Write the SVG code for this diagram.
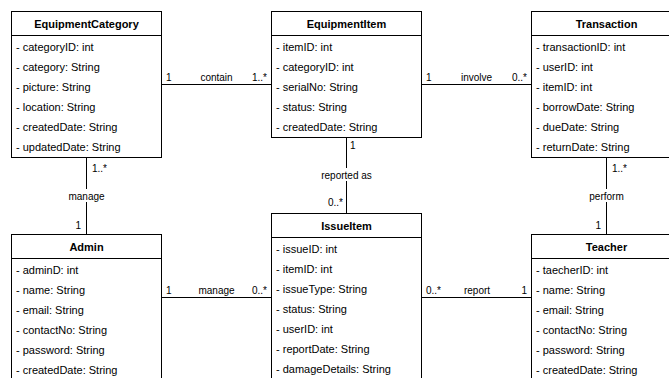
<svg xmlns="http://www.w3.org/2000/svg" width="669" height="378" viewBox="0 0 669 378">
  <style>
    .box { fill: #ffffff; stroke: #000000; stroke-width: 1; }
    .sep { stroke: #000000; stroke-width: 1; }
    .title { font-family: "Liberation Sans", Arial, sans-serif; font-size: 11px; font-weight: bold; fill: #000000; text-anchor: middle; }
    .attr { font-family: "Liberation Sans", Arial, sans-serif; font-size: 11px; fill: #000000; }
    .edge { stroke: #000000; stroke-width: 1; fill: none; }
    .lbl { font-family: "Liberation Sans", Arial, sans-serif; font-size: 10px; fill: #000000; }
    .mid { text-anchor: middle; }
    .end { text-anchor: end; }
    .bg { fill: #ffffff; }
  </style>
  <rect width="669" height="378" fill="#ffffff"/>

  <!-- associations -->
  <g id="connectors">
    <!-- EquipmentCategory - EquipmentItem -->
    <line class="edge" x1="161.5" y1="84.5" x2="271.5" y2="84.5"/>
    <text class="lbl" x="166" y="80.5">1</text>
    <text class="lbl mid" x="216.5" y="80.5">contain</text>
    <text class="lbl end" x="267" y="80.5">1..*</text>

    <!-- EquipmentItem - Transaction -->
    <line class="edge" x1="421.5" y1="84.5" x2="531.5" y2="84.5"/>
    <text class="lbl" x="426" y="80.5">1</text>
    <text class="lbl mid" x="476.5" y="80.5">involve</text>
    <text class="lbl end" x="527" y="80.5">0..*</text>

    <!-- EquipmentCategory - Admin -->
    <line class="edge" x1="86.5" y1="157.5" x2="86.5" y2="234.5"/>
    <text class="lbl" x="92" y="171.5">1..*</text>
    <rect class="bg" x="68" y="189" width="37" height="13"/>
    <text class="lbl mid" x="86.5" y="199.5">manage</text>
    <text class="lbl end" x="81" y="228.5">1</text>

    <!-- EquipmentItem - IssueItem -->
    <line class="edge" x1="346.5" y1="137.5" x2="346.5" y2="213.5"/>
    <text class="lbl" x="350" y="148.5">1</text>
    <rect class="bg" x="320" y="168" width="53" height="13"/>
    <text class="lbl mid" x="346.5" y="178.5">reported as</text>
    <text class="lbl end" x="343" y="205.5">0..*</text>

    <!-- Transaction - Teacher -->
    <line class="edge" x1="606.5" y1="157.5" x2="606.5" y2="234.5"/>
    <text class="lbl" x="612" y="171.5">1..*</text>
    <rect class="bg" x="588" y="189" width="37" height="13"/>
    <text class="lbl mid" x="606.5" y="199.5">perform</text>
    <text class="lbl end" x="601" y="228.5">1</text>

    <!-- Admin - IssueItem -->
    <line class="edge" x1="161.5" y1="297.5" x2="271.5" y2="297.5"/>
    <text class="lbl" x="166" y="293.5">1</text>
    <text class="lbl mid" x="216.5" y="293.5">manage</text>
    <text class="lbl end" x="267" y="293.5">0..*</text>

    <!-- IssueItem - Teacher -->
    <line class="edge" x1="421.5" y1="297.5" x2="531.5" y2="297.5"/>
    <text class="lbl" x="426" y="293.5">0..*</text>
    <text class="lbl mid" x="477" y="293.5">report</text>
    <text class="lbl end" x="527" y="293.5">1</text>
  </g>

  <g id="EquipmentCategory">
    <rect class="box" x="11.5" y="11.5" width="150" height="146"/>
    <line class="sep" x1="11.5" y1="35.5" x2="161.5" y2="35.5"/>
    <text class="title" x="86.5" y="28">EquipmentCategory</text>
    <text class="attr" x="16" y="51">- categoryID: int</text>
    <text class="attr" x="16" y="71">- category: String</text>
    <text class="attr" x="16" y="91">- picture: String</text>
    <text class="attr" x="16" y="111">- location: String</text>
    <text class="attr" x="16" y="131">- createdDate: String</text>
    <text class="attr" x="16" y="151">- updatedDate: String</text>
  </g>

  <g id="EquipmentItem">
    <rect class="box" x="271.5" y="11.5" width="150" height="126"/>
    <line class="sep" x1="271.5" y1="35.5" x2="421.5" y2="35.5"/>
    <text class="title" x="346.5" y="28">EquipmentItem</text>
    <text class="attr" x="276" y="51">- itemID: int</text>
    <text class="attr" x="276" y="71">- categoryID: int</text>
    <text class="attr" x="276" y="91">- serialNo: String</text>
    <text class="attr" x="276" y="111">- status: String</text>
    <text class="attr" x="276" y="131">- createdDate: String</text>
  </g>

  <g id="Transaction">
    <rect class="box" x="531.5" y="11.5" width="150" height="146"/>
    <line class="sep" x1="531.5" y1="35.5" x2="681.5" y2="35.5"/>
    <text class="title" x="606.5" y="28">Transaction</text>
    <text class="attr" x="536" y="51">- transactionID: int</text>
    <text class="attr" x="536" y="71">- userID: int</text>
    <text class="attr" x="536" y="91">- itemID: int</text>
    <text class="attr" x="536" y="111">- borrowDate: String</text>
    <text class="attr" x="536" y="131">- dueDate: String</text>
    <text class="attr" x="536" y="151">- returnDate: String</text>
  </g>

  <g id="Admin">
    <rect class="box" x="11.5" y="234.5" width="150" height="166"/>
    <line class="sep" x1="11.5" y1="258.5" x2="161.5" y2="258.5"/>
    <text class="title" x="86.5" y="251">Admin</text>
    <text class="attr" x="16" y="274">- adminD: int</text>
    <text class="attr" x="16" y="294">- name: String</text>
    <text class="attr" x="16" y="314">- email: String</text>
    <text class="attr" x="16" y="334">- contactNo: String</text>
    <text class="attr" x="16" y="354">- password: String</text>
    <text class="attr" x="16" y="374">- createdDate: String</text>
  </g>

  <g id="IssueItem">
    <rect class="box" x="271.5" y="213.5" width="150" height="186"/>
    <line class="sep" x1="271.5" y1="237.5" x2="421.5" y2="237.5"/>
    <text class="title" x="346.5" y="230">IssueItem</text>
    <text class="attr" x="276" y="253">- issueID: int</text>
    <text class="attr" x="276" y="273">- itemID: int</text>
    <text class="attr" x="276" y="293">- issueType: String</text>
    <text class="attr" x="276" y="313">- status: String</text>
    <text class="attr" x="276" y="333">- userID: int</text>
    <text class="attr" x="276" y="353">- reportDate: String</text>
    <text class="attr" x="276" y="373">- damageDetails: String</text>
  </g>

  <g id="Teacher">
    <rect class="box" x="531.5" y="234.5" width="150" height="166"/>
    <line class="sep" x1="531.5" y1="258.5" x2="681.5" y2="258.5"/>
    <text class="title" x="606.5" y="251">Teacher</text>
    <text class="attr" x="536" y="274">- taecherID: int</text>
    <text class="attr" x="536" y="294">- name: String</text>
    <text class="attr" x="536" y="314">- email: String</text>
    <text class="attr" x="536" y="334">- contactNo: String</text>
    <text class="attr" x="536" y="354">- password: String</text>
    <text class="attr" x="536" y="374">- createdDate: String</text>
  </g>
</svg>
